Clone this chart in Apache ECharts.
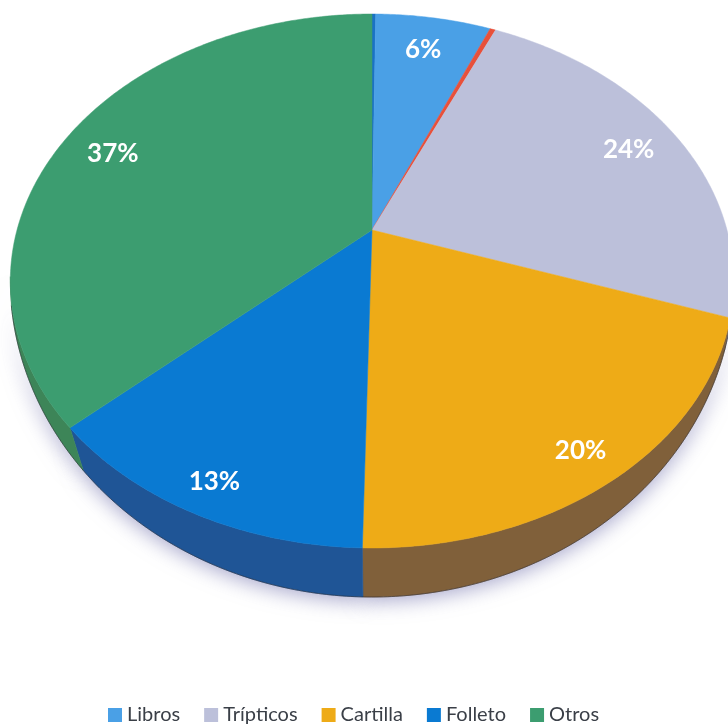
<!DOCTYPE html>
<html>
<head>
<meta charset="utf-8">
<style>html,body{margin:0;padding:0;background:#fff}#c{width:728px;height:724px}</style>
<script src="https://cdn.jsdelivr.net/npm/echarts@6/dist/echarts.min.js"></script>
</head>
<body>
<div id="c"></div>
<script>
// Data, in drawing order, clockwise from the top of the pie
const names = ['', 'Libros', ' ', 'Trípticos', 'Cartilla', 'Folleto', 'Otros'];
const values = [0.2, 6.2, 0.3, 23.5, 20.15, 12.95, 36.7];
const startPercent = 0;
const legendNames = ['Libros', 'Trípticos', 'Cartilla', 'Folleto', 'Otros'];

// Styles
const topColors = ['#1a72c4', '#4aa0e6', '#e8503a', '#bcc0da', '#eeab17', '#0a7ad2', '#3c9d70'];
const wallColors = ['#1a5590', '#2f6ea8', '#904030', '#7b7d90', '#80603a', '#1f5596', '#3d8558'];
const labelRadius = [0, 0.825, 0, 0.85, 0.89, 0.915, 0.855];
const labelNudge = [[0, 0], [-1, 0], [0, 0], [-3, 2], [-2, 3], [3, -3], [1, 7]];

// Perspective projection of the pie's disc
const cam = { x: 372, y: 230, r: 355, a: 213.3, c: -0.191 };
const rim = { x: 372, y: 281, rx: 362, ry: 267 };
const base = { x: 372, y: 278, rx: 362, ry: 319, k: 0.935 };

function project(theta, r) {
  const u = Math.sin(theta) * r, v = -Math.cos(theta) * r;
  const w = 1 / (1 + cam.c * v);
  return [cam.x + cam.r * u * w, (cam.a * v + cam.y) * w];
}
function basePoint(p) {
  const phi = Math.atan2((p[0] - rim.x) / rim.rx, (p[1] - rim.y) / rim.ry) * base.k;
  return [base.x + base.rx * Math.sin(phi), base.y + base.ry * Math.cos(phi)];
}
const toAngle = pct => (pct + startPercent) / 100 * Math.PI * 2;

function renderSlice(i) {
  return function (params, api) {
    const value = api.value(0);
    const before = values.slice(0, i).reduce((s, v) => s + v, 0);
    const t0 = toAngle(before), t1 = toAngle(before + value);
    const steps = Math.max(2, Math.ceil((t1 - t0) / 0.01));
    const arc = [];
    for (let k = 0; k <= steps; k++) arc.push(project(t0 + (t1 - t0) * k / steps, 1));
    const children = [];
    const low = arc.filter(p => p[1] > rim.y - 5);
    if (low.length > 1) {
      const outer = low.map(basePoint);
      const wall = low.concat(outer.slice().reverse());
      children.push({ type: 'polygon', z2: 0, silent: true, shape: { points: wall },
        style: { fill: '#fff', shadowBlur: 20, shadowColor: 'rgba(110,110,170,0.6)', shadowOffsetY: 4 } });
      children.push({ type: 'polygon', z2: 1, silent: true, shape: { points: wall },
        style: { fill: wallColors[i], stroke: wallColors[i], lineWidth: 0.6 } });
      children.push({ type: 'polyline', z2: 2, silent: true, shape: { points: outer },
        style: { fill: null, stroke: 'rgba(40,40,50,0.55)', lineWidth: 1 } });
    }
    children.push({ type: 'polygon', z2: 3, silent: true,
      shape: { points: [[cam.x, cam.y]].concat(arc) },
      style: { fill: topColors[i], stroke: topColors[i], lineWidth: 0.5 } });
    if (labelRadius[i]) {
      const p = project((t0 + t1) / 2, labelRadius[i]);
      children.push({ type: 'text', z2: 4, silent: true, x: p[0] + labelNudge[i][0], y: p[1] + labelNudge[i][1],
        style: { text: Math.round(value) + '%', fill: '#fff', align: 'center', verticalAlign: 'middle',
          font: 'bold 26px Lato, "Open Sans", sans-serif' } });
    }
    return { type: 'group', children };
  };
}

const chart = echarts.init(document.getElementById('c'), null, { renderer: 'canvas' });
chart.setOption({
  animation: false,
  backgroundColor: '#ffffff',
  legend: {
    data: legendNames, left: 108, top: 705, padding: 0, icon: 'rect', itemWidth: 14, itemHeight: 14, itemGap: 24,
    selectedMode: false,
    textStyle: { color: '#3a3f47', fontFamily: 'Lato, "Open Sans", sans-serif', fontSize: 20 }
  },
  series: values.map((v, i) => ({
    type: 'custom',
    name: names[i],
    coordinateSystem: 'none',
    itemStyle: { color: topColors[i] },
    renderItem: renderSlice(i),
    clip: false,
    data: [[v]]
  }))
});
</script>
</body>
</html>
